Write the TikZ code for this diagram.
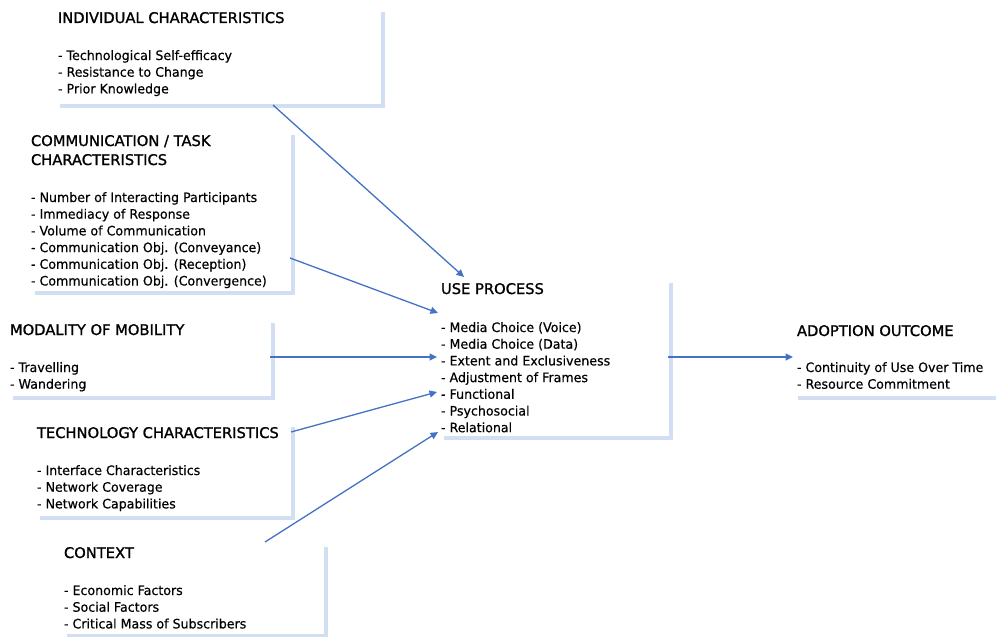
\documentclass[tikz,border=0pt]{standalone}
\usepackage{fontspec}
\setmainfont{DejaVu Sans}[FakeStretch=0.97,FakeBold=0.4]
\newfontfamily\hdfam{DejaVu Sans}[FakeBold=1.2]
\usetikzlibrary{arrows.meta}
\definecolor{frameblue}{RGB}{210,222,241}
\definecolor{arrowblue}{RGB}{68,114,196}
\newcommand{\hdfont}{\hdfam\fontsize{14.7}{19}\selectfont}
\newcommand{\itfont}{\fontsize{13}{16.7}\selectfont}
\tikzset{
  heading/.style={anchor=north west, inner sep=0pt, outer sep=0pt, align=left, font=\hdfont, yshift=13.3pt},
  itemlist/.style={anchor=north west, inner sep=0pt, outer sep=0pt, align=left, font=\itfont, yshift=11.69pt},
  frame/.style={draw=frameblue, line width=4pt, line join=miter},
  arr/.style={draw=arrowblue, line width=1.3pt, -{Triangle[length=7.5pt,width=7pt]}}
}
\begin{document}
\begin{tikzpicture}[x=1pt,y=-1pt]
\fill[white] (0,0) rectangle (996,637);
\useasboundingbox (0,0) rectangle (996,637);

% frames (right and bottom edges)
\draw[frame] (60,106) -- (383,106) -- (383,12);
\draw[frame] (35,293) -- (293,293) -- (293,135);
\draw[frame] (13,398) -- (273,398) -- (273,323);
\draw[frame] (40,518) -- (293,518) -- (293,427);
\draw[frame] (67,636) -- (326,636) -- (326,547);
\draw[frame] (444,438) -- (671,438) -- (671,283);
\draw[frame] (798,398) -- (1000,398);

% Individual characteristics
\node[heading] (ind) at (58,23) {\strut INDIVIDUAL CHARACTERISTICS};
\node[itemlist] (indl) at (58,60) {\strut- Technological Self-efficacy\\- Resistance to Change\\- Prior Knowledge};

% Communication / task characteristics
\node[heading] (comm) at (31,146) {\strut COMMUNICATION / TASK\\CHARACTERISTICS};
\node[itemlist] (comml) at (31,202) {\strut- Number of Interacting Participants\\- Immediacy of Response\\- Volume of Communication\\- Communication Obj. (Conveyance)\\- Communication Obj. (Reception)\\- Communication Obj. (Convergence)};

% Modality of mobility
\node[heading] (mod) at (10,335) {\strut MODALITY OF MOBILITY};
\node[itemlist] (modl) at (10,372) {\strut- Travelling\\- Wandering};

% Technology characteristics
\node[heading] (tech) at (37,438) {\strut TECHNOLOGY CHARACTERISTICS};
\node[itemlist] (techl) at (37,475) {\strut- Interface Characteristics\\- Network Coverage\\- Network Capabilities};

% Context
\node[heading] (ctx) at (64,558) {\strut CONTEXT};
\node[itemlist] (ctxl) at (64,595) {\strut- Economic Factors\\- Social Factors\\- Critical Mass of Subscribers};

% Use process
\node[heading] (use) at (441,294) {\strut USE PROCESS};
\node[itemlist] (usel) at (441,332) {\strut- Media Choice (Voice)\\- Media Choice (Data)\\- Extent and Exclusiveness\\- Adjustment of Frames\\- Functional\\- Psychosocial\\- Relational};

% Adoption outcome
\node[heading] (ado) at (797,336) {\strut ADOPTION OUTCOME};
\node[itemlist] (adol) at (797,372) {\strut- Continuity of Use Over Time\\- Resource Commitment};

% connector end points
\coordinate (ind-o) at (273,105);
\coordinate (comm-o) at (290,258);
\coordinate (mod-o) at (270,357);
\coordinate (tech-o) at (291,432);
\coordinate (ctx-o) at (265,542);
\coordinate (use-i1) at (464,277);
\coordinate (use-i2) at (438,313);
\coordinate (use-i3) at (437,357);
\coordinate (use-i4) at (437,392);
\coordinate (use-i5) at (438,432);
\coordinate (use-o) at (668,357);
\coordinate (ado-i) at (793,357);

\draw[arr] (ind-o) -- (use-i1);
\draw[arr] (comm-o) -- (use-i2);
\draw[arr] (mod-o) -- (use-i3);
\draw[arr] (tech-o) -- (use-i4);
\draw[arr] (ctx-o) -- (use-i5);
\draw[arr] (use-o) -- (ado-i);
\end{tikzpicture}
\end{document}
